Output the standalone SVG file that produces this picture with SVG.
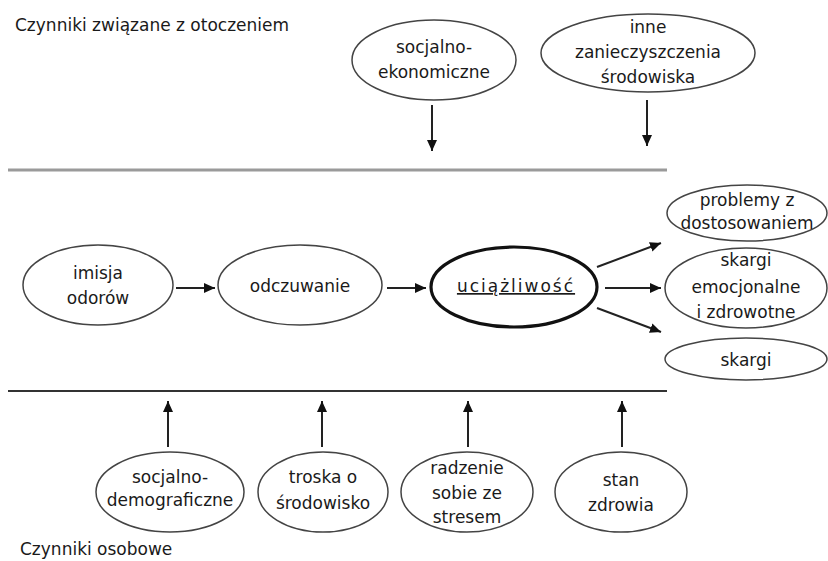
<svg xmlns="http://www.w3.org/2000/svg" width="828" height="561" viewBox="0 0 828 561">
<defs>
<style>
text{font-family:"DejaVu Sans",Verdana,sans-serif;font-size:17px;fill:#1a1a1a;text-anchor:middle}
.lbl{text-anchor:start}
.node ellipse{fill:#fff;stroke:#444;stroke-width:1.5}
.main ellipse{stroke:#111;stroke-width:3.2}
.conn line{stroke:#222;stroke-width:2;marker-end:url(#ah)}
</style>
<marker id="ah" markerUnits="userSpaceOnUse" markerWidth="11" markerHeight="10" refX="11" refY="5" orient="auto">
<path d="M0,0 L11,5 L0,10 z" fill="#111"/>
</marker>
</defs>
<rect width="828" height="561" fill="#fff"/>
<text class="lbl" x="15" y="31">Czynniki związane z otoczeniem</text>
<text class="lbl" x="20" y="555">Czynniki osobowe</text>
<line x1="8" y1="170" x2="667" y2="170" stroke="#9a9a9a" stroke-width="3"/>
<line x1="8" y1="391" x2="667" y2="391" stroke="#333" stroke-width="2"/>

<g id="socjalno-ekonomiczne" class="node"><ellipse cx="434" cy="60" rx="82" ry="40"/><text x="434" y="53">socjalno-</text><text x="434" y="78">ekonomiczne</text></g>
<g id="inne-zanieczyszczenia" class="node"><ellipse cx="648" cy="53" rx="107" ry="39"/><text x="648" y="33">inne</text><text x="648" y="58">zanieczyszczenia</text><text x="648" y="83">środowiska</text></g>

<g id="imisja" class="node"><ellipse cx="98" cy="285" rx="75" ry="40"/><text x="98" y="279">imisja</text><text x="98" y="304">odorów</text></g>
<g id="odczuwanie" class="node"><ellipse cx="300" cy="285" rx="82" ry="40"/><text x="300" y="292">odczuwanie</text></g>
<g id="uciazliwosc" class="node main"><ellipse cx="514" cy="287" rx="83" ry="40"/><text x="516" y="292" text-decoration="underline" letter-spacing="2">uciążliwość</text></g>

<g id="problemy" class="node"><ellipse cx="747" cy="213" rx="80" ry="28"/><text x="747" y="206">problemy z</text><text x="747" y="229">dostosowaniem</text></g>
<g id="skargi-emocjonalne" class="node"><ellipse cx="746" cy="288" rx="81" ry="40"/><text x="746" y="266">skargi</text><text x="746" y="293">emocjonalne</text><text x="746" y="318">i zdrowotne</text></g>
<g id="skargi" class="node"><ellipse cx="746" cy="359" rx="81" ry="21"/><text x="746" y="366">skargi</text></g>

<g id="socjalno-demograficzne" class="node"><ellipse cx="170" cy="492" rx="74" ry="40"/><text x="170" y="483">socjalno-</text><text x="170" y="506">demograficzne</text></g>
<g id="troska" class="node"><ellipse cx="323" cy="492" rx="65" ry="40"/><text x="323" y="483">troska o</text><text x="323" y="509">środowisko</text></g>
<g id="radzenie" class="node"><ellipse cx="467" cy="492" rx="66" ry="40"/><text x="467" y="474">radzenie</text><text x="467" y="499">sobie ze</text><text x="467" y="523">stresem</text></g>
<g id="stan-zdrowia" class="node"><ellipse cx="621" cy="492" rx="66" ry="40"/><text x="621" y="486">stan</text><text x="621" y="511">zdrowia</text></g>

<g id="connectors" class="conn">
<line x1="432" y1="105" x2="432" y2="151"/>
<line x1="647" y1="100" x2="647" y2="146"/>
<line x1="176" y1="288" x2="215" y2="288"/>
<line x1="387" y1="288" x2="426" y2="288"/>
<line x1="597" y1="267" x2="661" y2="243"/>
<line x1="605" y1="288" x2="661" y2="288"/>
<line x1="597" y1="308" x2="661" y2="332"/>
<line x1="168" y1="447" x2="168" y2="401"/>
<line x1="322" y1="447" x2="322" y2="401"/>
<line x1="468" y1="447" x2="468" y2="401"/>
<line x1="622" y1="447" x2="622" y2="401"/>
</g>
</svg>
